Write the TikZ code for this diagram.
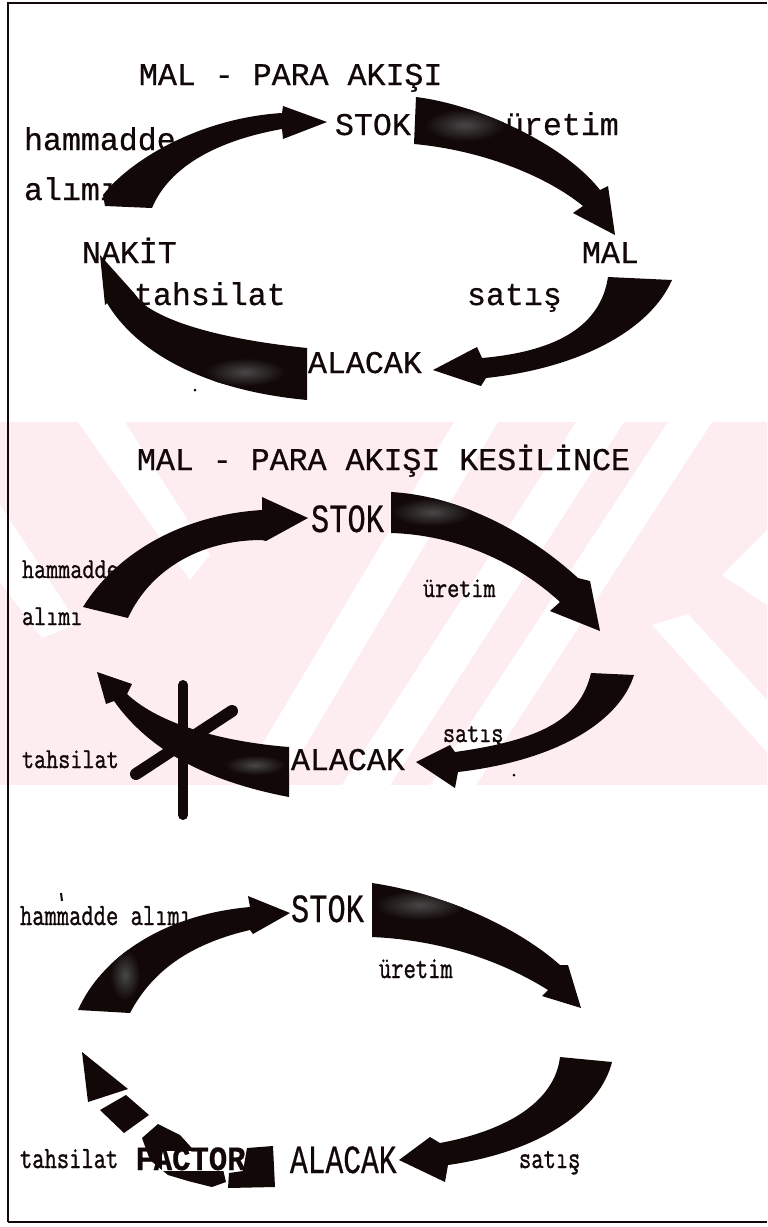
\documentclass[tikz,border=0pt]{standalone}
\usepackage{fontspec}
\usepackage{graphicx}
\newfontfamily\tw[FakeBold=0.6]{Liberation Mono}
\newfontfamily\lmm[FakeBold=1.2]{Latin Modern Mono}
\newcommand\sqz[1]{\scalebox{0.81}[1]{#1}}
\newcommand\sqzc[1]{\scalebox{0.77}[1]{#1}}
\definecolor{wmpink}{RGB}{253,237,240}
\definecolor{ink}{RGB}{18,8,8}
\def\arrAone{(103,195) .. controls (130,160) and (200,118) .. (282,113) -- (283,106) -- (327,122) -- (283,139) -- (282,129) .. controls (220,140) and (170,165) .. (152,208) -- (105,206) -- cycle}
\def\arrAtwo{(416,97) .. controls (480,105) and (565,145) .. (600,190) -- (608,186) -- (615,235) -- (573,213) -- (583,206) .. controls (545,175) and (480,150) .. (414,144) -- cycle}
\def\arrAthree{(608,277) .. controls (600,330) and (550,352) .. (482,358) -- (477,347) -- (433,370) -- (481,386) -- (486,378) .. controls (580,368) and (650,330) .. (672,280) -- cycle}
\def\arrAfour{(307,348) .. controls (230,340) and (170,325) .. (142,303) -- (134,293) -- (100,255) -- (105,305) -- (107,303) .. controls (135,350) and (200,390) .. (307,400) -- cycle}
\def\arrBone{(83,607) .. controls (115,555) and (180,515) .. (262,510) -- (262,497) -- (308,518) -- (266,541) -- (262,540) .. controls (200,540) and (150,570) .. (128,618) -- cycle}
\def\arrBtwo{(391,492) .. controls (450,495) and (520,525) .. (578,578) -- (590,581) -- (600,631) -- (550,611) -- (560,602) .. controls (520,565) and (460,535) .. (391,533) -- cycle}
\def\arrBthree{(591,673) .. controls (580,720) and (540,740) .. (455,752) -- (450,745) -- (416,762) -- (455,788) -- (458,772) .. controls (560,760) and (620,720) .. (634,675) -- cycle}
\def\arrBfour{(289,747) .. controls (225,742) and (160,725) .. (127,694) -- (132,684) -- (97,672) -- (106,704) -- (114,701) .. controls (150,752) and (210,782) .. (289,797) -- cycle}
\def\arrCone{(78,1010) .. controls (100,960) and (160,915) .. (250,907) -- (248,896) -- (290,913) -- (253,934) -- (250,930) .. controls (185,945) and (150,975) .. (130,1013) -- cycle}
\def\arrCtwo{(372,883) .. controls (440,893) and (515,925) .. (560,965) -- (568,965) -- (581,1008) -- (542,996) -- (548,990) .. controls (500,960) and (440,940) .. (372,937) -- cycle}
\def\arrCthree{(560,1057) .. controls (555,1100) and (510,1130) .. (440,1143) -- (430,1137) -- (399,1160) -- (445,1182) -- (448,1165) .. controls (540,1152) and (600,1110) .. (612,1062) -- cycle}
\begin{document}
\begin{tikzpicture}[x=0.5pt,y=-0.5pt,
  twt/.style={anchor=base west, inner sep=0pt, outer sep=0pt, text=ink, font=\tw\fontsize{15.8}{18}\selectfont},
  twbig/.style={anchor=base west, inner sep=0pt, outer sep=0pt, text=ink, font=\tw\fontsize{20}{22}\selectfont},
  lab/.style={anchor=base west, inner sep=0pt, outer sep=0pt, text=ink, font=\lmm\fontsize{14.5}{16}\selectfont},
  labc/.style={anchor=base west, inner sep=0pt, outer sep=0pt, text=ink, font=\lmm\fontsize{15.5}{17}\selectfont},
  blot/.style={fill=ink},
  patch/.style={inner color=black!72, outer color=ink}]
\useasboundingbox (0,0) rectangle (767,1227);
% watermark
\begin{scope}
\clip (0,422) rectangle (767,785);
\fill[wmpink] (0,422) rectangle (767,785);
\fill[white] (238,785) -- (282,785) -- (498,422) -- (454,422) -- cycle;
\fill[white] (342,785) -- (390,785) -- (624,422) -- (576,422) -- cycle;
\fill[white] (430,785) -- (476,785) -- (712,422) -- (668,422) -- cycle;
\fill[white] (78,422) -- (125,422) -- (210,555) -- (190,580) -- cycle;
\fill[white] (0,505) -- (78,624) -- (42,638) -- (0,582) -- cycle;
\fill[white] (652,625) -- (688,614) -- (767,700) -- (767,752) -- cycle;
\fill[white] (722,575) -- (767,530) -- (767,605) -- cycle;
\end{scope}
% frame
\draw[ink, line width=1.2pt] (8,1222) -- (8,3) -- (767,3);
\draw[ink, line width=1.2pt] (8,1222) -- (767,1222);
% ---------- section 1
\node[twt] (t1) at (139,85) {MAL - PARA AKIŞI};
\node[twt] (h1) at (24,150) {hammadde};
\node[twt] (a1) at (24,200) {alımı};
\node[twt] (s1) at (335,135) {STOK};
\node[twt] (u1) at (505,135) {üretim};
\node[twt] (n1) at (82,263) {NAKİT};
\node[twt] (m1) at (582,263) {MAL};
\node[twt] (th1) at (134,305) {tahsilat};
\node[twt] (sa1) at (467,305) {satış};
\node[twt] (al1) at (308,373) {ALACAK};
\fill[blot] \arrAone;
\fill[blot] \arrAtwo;
\fill[blot] \arrAthree;
\fill[blot] \arrAfour;
\begin{scope}\clip \arrAtwo; \shade[patch] (465,125) ellipse [x radius=40, y radius=16]; \end{scope}
\begin{scope}\clip \arrAfour; \shade[patch] (245,372) ellipse [x radius=40, y radius=14]; \end{scope}
\fill[ink] (195,390) circle (1.5);
% ---------- section 2
\node[twt] (t2) at (137,470) {MAL - PARA AKIŞI KESİLİNCE};
\node[twbig] (s2) at (311,532) {\scalebox{0.76}[1]{STOK}};
\node[lab] (h2) at (22,578) {\sqz{hammadde}};
\node[lab] (a2) at (22,625) {\sqz{alımı}};
\node[lab] (u2) at (423,597) {\sqz{üretim}};
\node[lab] (sa2) at (443,742) {\sqz{satış}};
\node[lab] (th2) at (22,768) {\sqz{tahsilat}};
\node[twt] (al2) at (291,770) {ALACAK};
\fill[blot] \arrBone;
\fill[blot] \arrBtwo;
\fill[blot] \arrBthree;
\fill[blot] \arrBfour;
\begin{scope}\clip \arrBtwo; \shade[patch] (432,512) ellipse [x radius=40, y radius=14]; \end{scope}
\begin{scope}\clip \arrBfour; \shade[patch] (255,765) ellipse [x radius=30, y radius=10]; \end{scope}
\draw[ink, line width=5pt, line cap=round] (183,685) -- (183,815);
\draw[ink, line width=6pt, line cap=round] (232,711) -- (136,774);
\fill[ink] (514,775) circle (1.5);
% ---------- section 3
\node[twbig] (s3) at (291,922) {\scalebox{0.76}[1]{STOK}};
\node[labc] (h3) at (20,925) {\sqzc{hammadde alımı}};
\node[labc] (u3) at (379,978) {\sqzc{üretim}};
\node[labc] (th3) at (20,1168) {\sqzc{tahsilat}};
\node[labc] (sa3) at (519,1168) {\sqzc{satış}};
\node[twbig] (al3) at (290,1173) {\scalebox{0.74}[1]{ALACAK}};
\draw[ink, line width=1pt] (61,893) -- (62,901);
\fill[blot] \arrCone;
\fill[blot] \arrCtwo;
\fill[blot] \arrCthree;
\begin{scope}\clip \arrCtwo; \shade[patch] (420,905) ellipse [x radius=45, y radius=15]; \end{scope}
\begin{scope}\clip \arrCone; \shade[patch] (125,975) ellipse [x radius=15, y radius=25]; \end{scope}
% broken tahsilat arrow
\fill[blot] (82,1052) -- (88,1102) -- (128,1089) -- cycle;
\fill[blot] (100,1110) -- (126,1095) -- (149,1115) -- (124,1133) -- cycle;
\fill[blot] (142,1138) -- (158,1124) -- (180,1135) -- (200,1157) -- (222,1165) -- (226,1182) -- (212,1187) -- (188,1181) -- (168,1175) -- (150,1160) -- cycle;
\fill[white] (162,1151) rectangle (226,1171);
\fill[blot] (247,1148) -- (273,1146) -- (275,1187) -- (228,1188) -- (229,1173) -- (243,1171) -- cycle;
\node[anchor=base west, inner sep=0pt, text=ink, font=\tw\bfseries\fontsize{17}{19}\selectfont] (f3) at (135,1170) {\scalebox{0.9}[1]{FACTOR}};
\end{tikzpicture}
\end{document}
